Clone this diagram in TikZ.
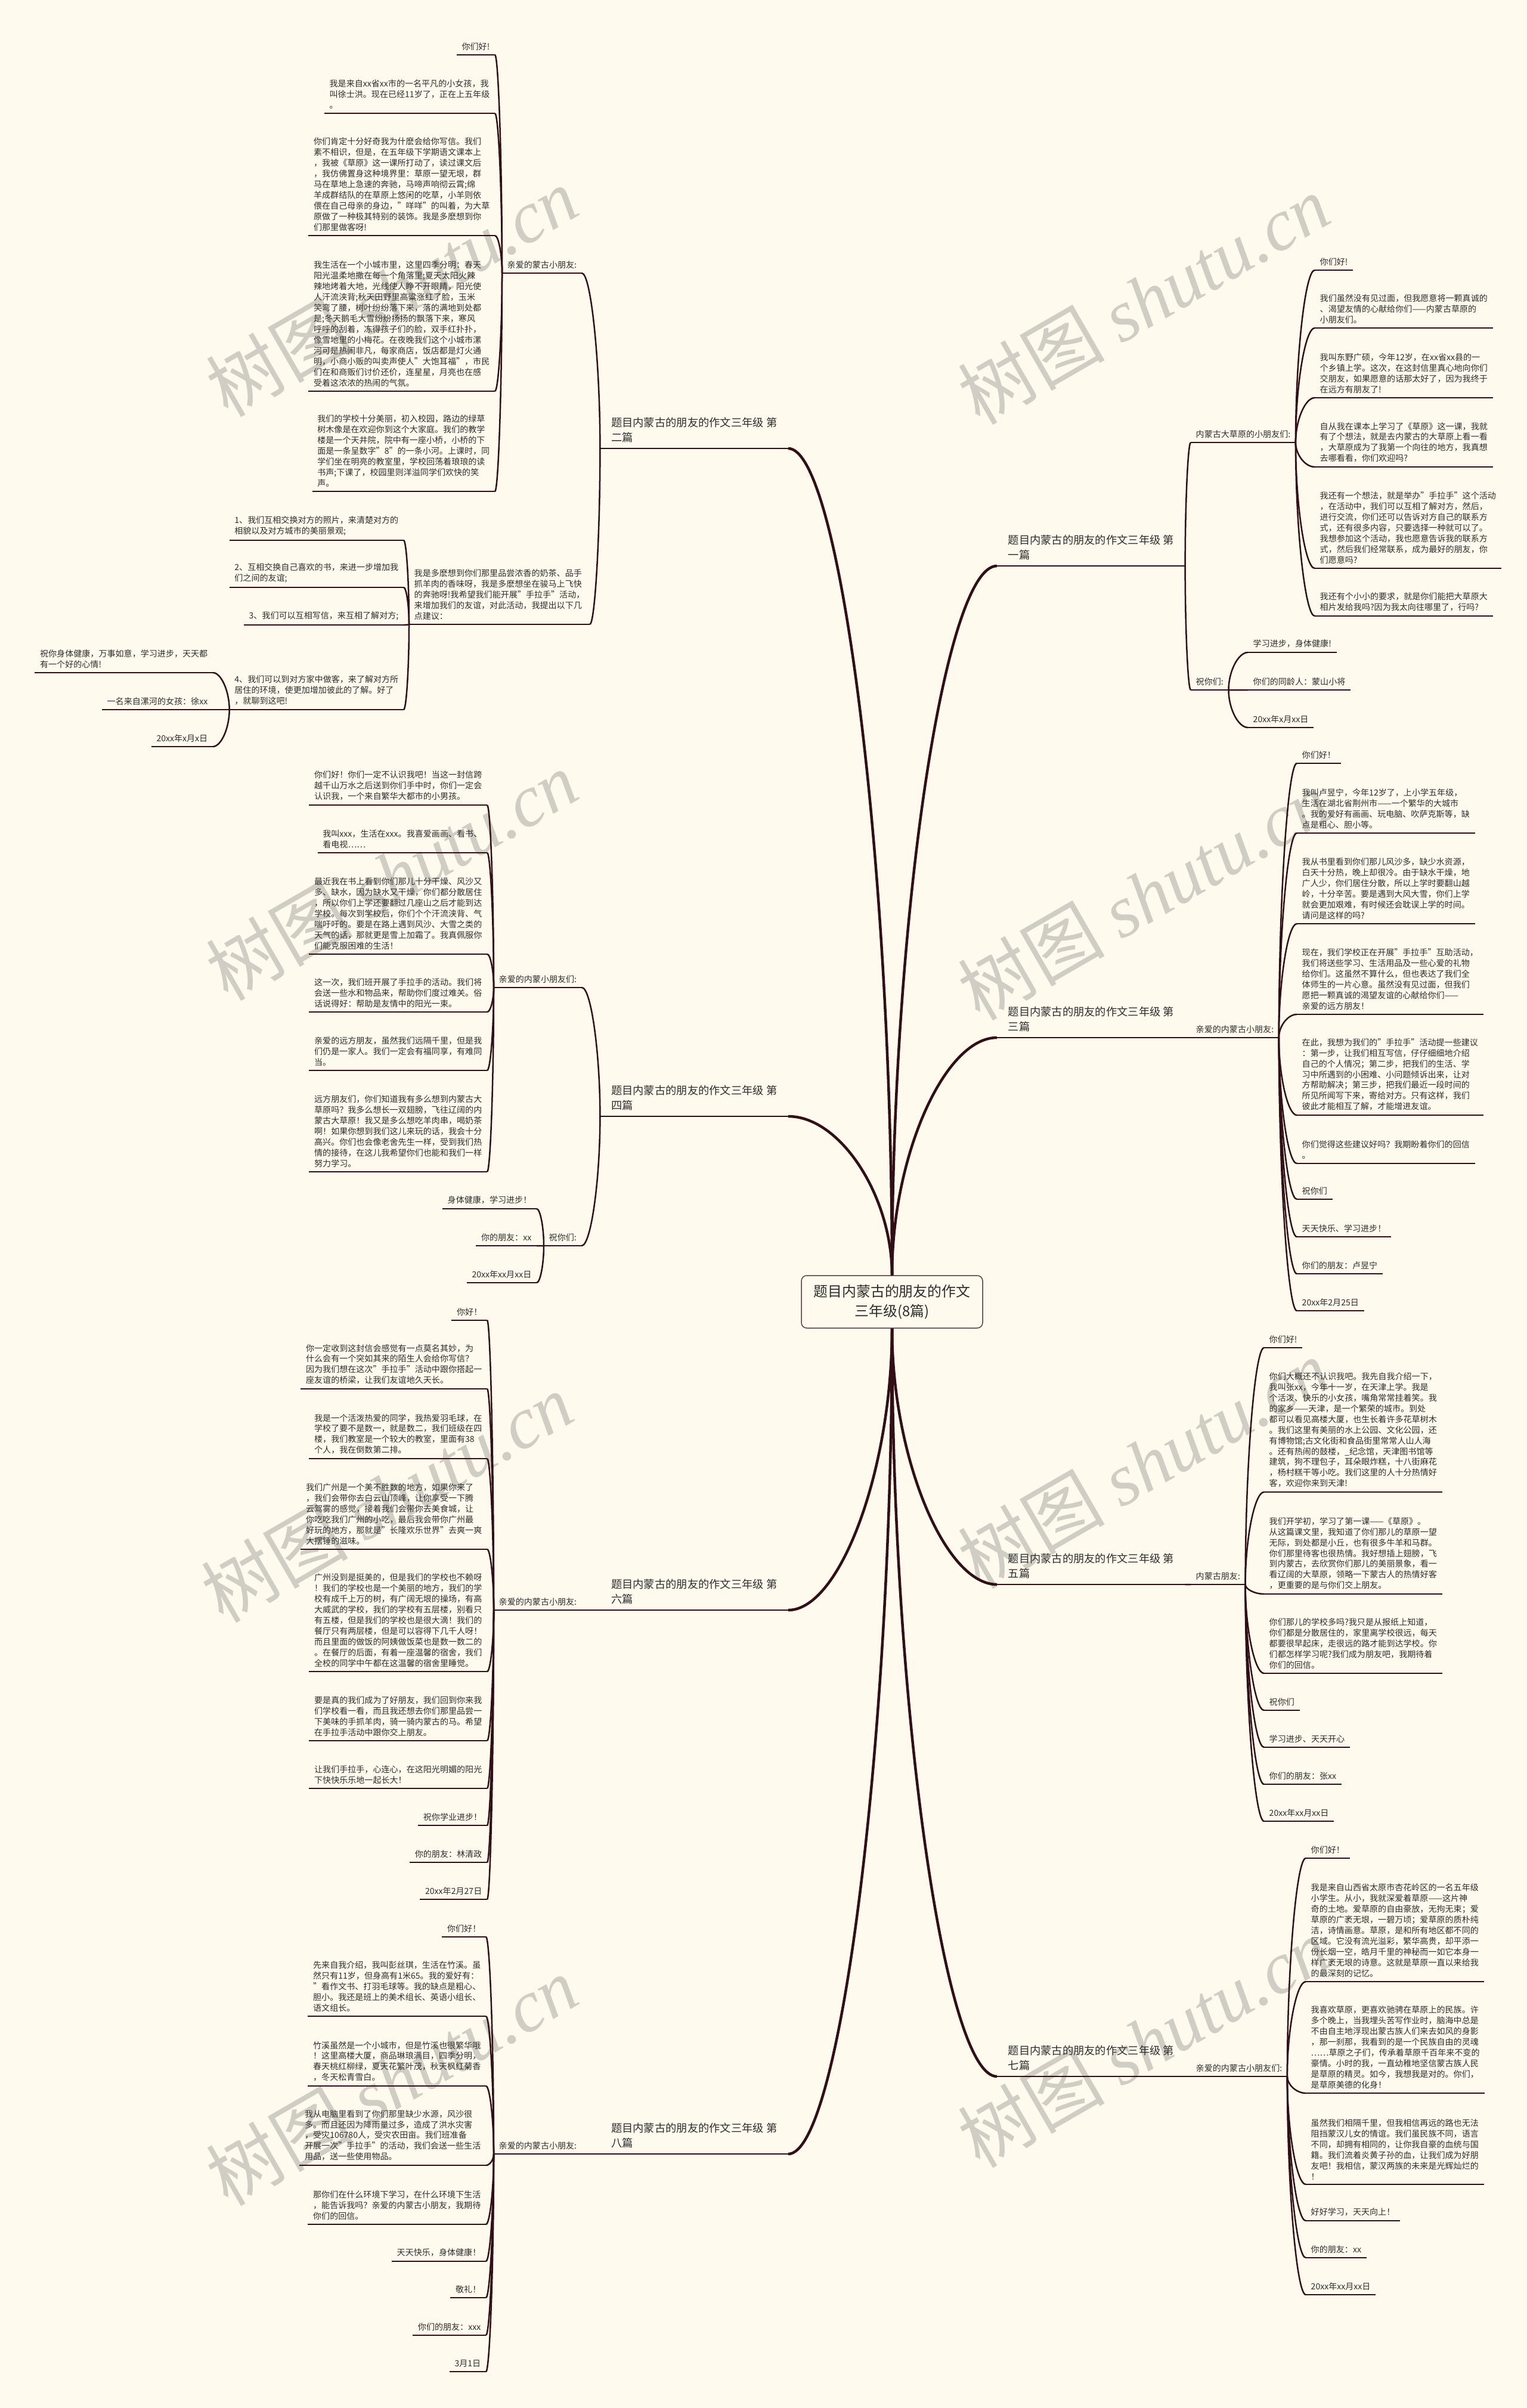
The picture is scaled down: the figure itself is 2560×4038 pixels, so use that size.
\documentclass[tikz,border=0pt]{standalone}
\usepackage{fontspec}
\setmainfont{Noto Sans CJK SC}
\newfontfamily\wmfont{Liberation Serif}
\usetikzlibrary{calc}
\definecolor{paper}{RGB}{255,250,237}
\definecolor{ink}{RGB}{48,16,22}
\definecolor{txt}{RGB}{45,45,45}
\definecolor{wm}{RGB}{208,205,196}
\begin{document}
\begin{tikzpicture}[x=0.1mm, y=-0.1mm,
  leaf/.style={font=\fontsize{4pt}{5.1pt}\selectfont, text=txt, align=left, inner xsep=0.8mm, inner ysep=0.7mm,
    append after command={(\tikzlastnode.south west) edge[draw=ink, line width=0.22mm] (\tikzlastnode.south east)}},
  leafl/.style={leaf, anchor=south east},
  leafr/.style={leaf, anchor=south west},
  branch/.style={font=\fontsize{5.2pt}{7.1pt}\selectfont, text=txt, align=left, inner xsep=1.8mm, inner ysep=0.9mm,
    append after command={(\tikzlastnode.south west) edge[draw=ink, line width=0.25mm] (\tikzlastnode.south east)}},
  root/.style={draw=ink!80, line width=0.15mm, rounded corners=0.9mm, fill=paper, text=txt, align=center,
    font=\fontsize{6.8pt}{9.4pt}\selectfont, minimum width=30.4mm, minimum height=8.8mm},
  link/.style={draw=ink, line width=0.25mm,
    to path={.. controls ($(\tikztostart)!0.5!(\tikztostart|-\tikztotarget)$) and ($(\tikztotarget)!0.5!(\tikztostart|-\tikztotarget)$) .. (\tikztotarget)}},
  trunk/.style={link, line width=0.45mm},
  wmark/.style={text=wm, rotate=30, font=\fontsize{35pt}{35pt}\selectfont}]
\useasboundingbox (0,0) rectangle (2560,4038);
\fill[paper] (0,0) rectangle (2560,4038);

% watermark
\node[wmark] (wm1) at (657,489) {树图 {\wmfont\itshape shutu.cn}};
\node[wmark] (wm2) at (657,1468) {树图 {\wmfont\itshape shutu.cn}};
\node[wmark] (wm3) at (649,2511) {树图 {\wmfont\itshape shutu.cn}};
\node[wmark] (wm4) at (657,3489) {树图 {\wmfont\itshape shutu.cn}};
\node[wmark] (wm5) at (1918,502) {树图 {\wmfont\itshape shutu.cn}};
\node[wmark] (wm6) at (1918,1501) {树图 {\wmfont\itshape shutu.cn}};
\node[wmark] (wm7) at (1918,2454) {树图 {\wmfont\itshape shutu.cn}};
\node[wmark] (wm8) at (1918,3425) {树图 {\wmfont\itshape shutu.cn}};

% centre and the eight letters
\node[root] (root) at (1496,2183) {题目内蒙古的朋友的作文\\三年级(8篇)};
\node[branch, anchor=south west] (B1) at (1672,949) {题目内蒙古的朋友的作文三年级 第\\一篇};
\node[branch, anchor=south east] (B2) at (1322,752) {题目内蒙古的朋友的作文三年级 第\\二篇};
\node[branch, anchor=south west] (B3) at (1672,1740) {题目内蒙古的朋友的作文三年级 第\\三篇};
\node[branch, anchor=south east] (B4) at (1322,1872) {题目内蒙古的朋友的作文三年级 第\\四篇};
\node[branch, anchor=south west] (B5) at (1672,2657) {题目内蒙古的朋友的作文三年级 第\\五篇};
\node[branch, anchor=south east] (B6) at (1322,2700) {题目内蒙古的朋友的作文三年级 第\\六篇};
\node[branch, anchor=south west] (B7) at (1672,3482) {题目内蒙古的朋友的作文三年级 第\\七篇};
\node[branch, anchor=south east] (B8) at (1322,3612) {题目内蒙古的朋友的作文三年级 第\\八篇};

% second letter
\node[leafr] (s2a) at (842,458) {亲爱的蒙古小朋友:};
\node[leafr] (s2b) at (686,1047) {我是多麽想到你们那里品尝浓香的奶茶、品手\\抓羊肉的香味呀，我是多麽想坐在骏马上飞快\\的奔驰呀!我希望我们能开展"手拉手"活动，\\来增加我们的友谊，对此活动，我提出以下几\\点建议：};
\node[leafl] (a1) at (830,92) {你们好!};
\node[leafl] (a2) at (830,190) {我是来自xx省xx市的一名平凡的小女孩，我\\叫徐士洪。现在已经11岁了，正在上五年级\\。};
\node[leafl] (a3) at (830,395) {你们肯定十分好奇我为什麽会给你写信。我们\\素不相识，但是，在五年级下学期语文课本上\\，我被《草原》这一课所打动了，读过课文后\\，我仿佛置身这种境界里：草原一望无垠，群\\马在草地上急速的奔驰，马啼声响彻云霄;绵\\羊成群结队的在草原上悠闲的吃草，小羊则依\\偎在自己母亲的身边，"咩咩"的叫着，为大草\\原做了一种极其特别的装饰。我是多麽想到你\\们那里做客呀!};
\node[leafl] (a4) at (830,656) {我生活在一个小城市里，这里四季分明：春天\\阳光温柔地撒在每一个角落里;夏天太阳火辣\\辣地烤着大地，光线使人睁不开眼睛，阳光使\\人汗流浃背;秋天田野里高粱涨红了脸，玉米\\笑弯了腰，树叶纷纷落下来，落的满地到处都\\是;冬天鹅毛大雪纷纷扬扬的飘落下来，寒风\\呼呼的刮着，冻得孩子们的脸，双手红扑扑，\\像雪地里的小梅花。在夜晚我们这个小城市漯\\河可是热闹非凡，每家商店，饭店都是灯火通\\明，小商小贩的叫卖声使人"大饱耳福"，市民\\们在和商贩们讨价还价，连星星，月亮也在感\\受着这浓浓的热闹的气氛。};
\node[leafl] (a5) at (830,824) {我们的学校十分美丽，初入校园，路边的绿草\\树木像是在欢迎你到这个大家庭。我们的教学\\楼是一个天井院，院中有一座小桥，小桥的下\\面是一条呈数字"8"的一条小河。上课时，同\\学们坐在明亮的教室里，学校回荡着琅琅的读\\书声;下课了，校园里则洋溢同学们欢快的笑\\声。};
\node[leafl] (b1) at (677,906) {1、我们互相交换对方的照片，来清楚对方的\\相貌以及对方城市的美丽景观;};
\node[leafl] (b2) at (677,985) {2、互相交换自己喜欢的书，来进一步增加我\\们之间的友谊;};
\node[leafl] (b3) at (677,1048) {3、我们可以互相写信，来互相了解对方;};
\node[leafl] (b4) at (677,1190) {4、我们可以到对方家中做客，来了解对方所\\居住的环境，使更加增加彼此的了解。好了\\，就聊到这吧!};
\node[leafl] (c1) at (357,1128) {祝你身体健康，万事如意，学习进步，天天都\\有一个好的心情!};
\node[leafl] (c2) at (357,1190) {一名来自漯河的女孩：徐xx};
\node[leafl] (c3) at (357,1252) {20xx年x月x日};

% fourth letter
\node[leafr] (s4a) at (828,1656) {亲爱的内蒙小朋友们:};
\node[leafr] (s4b) at (912,2089) {祝你们:};
\node[leafl] (d1) at (817,1350) {你们好！你们一定不认识我吧！当这一封信跨\\越千山万水之后送到你们手中时，你们一定会\\认识我，一个来自繁华大都市的小男孩。};
\node[leafl] (d2) at (817,1430) {我叫xxx，生活在xxx。我喜爱画画、看书、\\看电视……};
\node[leafl] (d3) at (817,1600) {最近我在书上看到你们那儿十分干燥、风沙又\\多、缺水，因为缺水又干燥，你们都分散居住\\，所以你们上学还要翻过几座山之后才能到达\\学校。每次到学校后，你们个个汗流浃背、气\\喘吁吁的。要是在路上遇到风沙、大雪之类的\\天气的话，那就更是雪上加霜了。我真佩服你\\们能克服困难的生活！};
\node[leafl] (d4) at (817,1697) {这一次，我们班开展了手拉手的活动。我们将\\会送一些水和物品来，帮助你们度过难关。俗\\话说得好：帮助是友情中的阳光一束。};
\node[leafl] (d5) at (817,1795) {亲爱的远方朋友，虽然我们远隔千里，但是我\\们仍是一家人。我们一定会有福同享，有难同\\当。};
\node[leafl] (d6) at (817,1965) {远方朋友们，你们知道我有多么想到内蒙古大\\草原吗？我多么想长一双翅膀，飞往辽阔的内\\蒙古大草原！我又是多么想吃羊肉串，喝奶茶\\啊！如果你想到我们这儿来玩的话，我会十分\\高兴。你们也会像老舍先生一样，受到我们热\\情的接待，在这儿我希望你们也能和我们一样\\努力学习。};
\node[leafl] (e1) at (900,2027) {身体健康，学习进步！};
\node[leafl] (e2) at (900,2089) {你的朋友：xx};
\node[leafl] (e3) at (900,2151) {20xx年xx月xx日};

% sixth letter
\node[leafr] (s6) at (828,2700) {亲爱的内蒙古小朋友:};
\node[leafl] (f1) at (817,2214) {你好！};
\node[leafl] (f2) at (817,2329) {你一定收到这封信会感觉有一点莫名其妙，为\\什么会有一个突如其来的陌生人会给你写信？\\因为我们想在这次"手拉手"活动中跟你搭起一\\座友谊的桥梁，让我们友谊地久天长。};
\node[leafl] (f3) at (817,2446) {我是一个活泼热爱的同学，我热爱羽毛球，在\\学校了要不是数一，就是数二，我们班级在四\\楼，我们教室是一个较大的教室，里面有38\\个人，我在倒数第二排。};
\node[leafl] (f4) at (817,2598) {我们广州是一个美不胜数的地方，如果你来了\\，我们会带你去白云山顶峰，让你享受一下腾\\云驾雾的感觉，接着我们会带你去美食城，让\\你吃吃我们广州的小吃，最后我会带你广州最\\好玩的地方，那就是"长隆欢乐世界"去爽一爽\\大摆锤的滋味。};
\node[leafl] (f5) at (817,2803) {广州没到是挺美的，但是我们的学校也不赖呀\\！我们的学校也是一个美丽的地方，我们的学\\校有成千上万的树，有广阔无垠的操场，有高\\大威武的学校，我们的学校有五层楼，别看只\\有五楼，但是我们的学校也是很大滴！我们的\\餐厅只有两层楼，但是可以容得下几千人呀！\\而且里面的做饭的阿姨做饭菜也是数一数二的\\。在餐厅的后面，有着一座温馨的宿舍，我们\\全校的同学中午都在这温馨的宿舍里睡觉。};
\node[leafl] (f6) at (817,2919) {要是真的我们成为了好朋友，我们回到你来我\\们学校看一看，而且我还想去你们那里品尝一\\下美味的手抓羊肉，骑一骑内蒙古的马。希望\\在手拉手活动中跟你交上朋友。};
\node[leafl] (f7) at (817,2999) {让我们手拉手，心连心，在这阳光明媚的阳光\\下快快乐乐地一起长大！};
\node[leafl] (f8) at (817,3061) {祝你学业进步！};
\node[leafl] (f9) at (817,3123) {你的朋友：林清政};
\node[leafl] (f10) at (817,3185) {20xx年2月27日};

% eighth letter
\node[leafr] (s8) at (828,3612) {亲爱的内蒙古小朋友:};
\node[leafl] (g1) at (815,3248) {你们好！};
\node[leafl] (g2) at (815,3381) {先来自我介绍，我叫彭丝琪，生活在竹溪。虽\\然只有11岁，但身高有1米65。我的爱好有：\\"看作文书、打羽毛球等。我的缺点是粗心、\\胆小。我还是班上的美术组长、英语小组长、\\语文组长。};
\node[leafl] (g3) at (815,3498) {竹溪虽然是一个小城市，但是竹溪也很繁华哦\\！这里高楼大厦，商品琳琅满目，四季分明，\\春天桃红柳绿，夏天花繁叶茂，秋天枫红菊香\\，冬天松青雪白。};
\node[leafl] (g4) at (815,3631) {我从电脑里看到了你们那里缺少水源，风沙很\\多。而且还因为降雨量过多，造成了洪水灾害\\，受灾106780人，受灾农田亩。我们班准备\\开展一次"手拉手"的活动，我们会送一些生活\\用品，送一些使用物品。};
\node[leafl] (g5) at (815,3730) {那你们在什么环境下学习，在什么环境下生活\\，能告诉我吗？亲爱的内蒙古小朋友，我期待\\你们的回信。};
\node[leafl] (g6) at (815,3792) {天天快乐，身体健康！};
\node[leafl] (g7) at (815,3853) {敬礼！};
\node[leafl] (g8) at (815,3916) {你们的朋友：xxx};
\node[leafl] (g9) at (815,3977) {3月1日};

% first letter
\node[leafr] (r1a) at (1997,742) {内蒙古大草原的小朋友们:};
\node[leafr] (r1b) at (1997,1157) {祝你们:};
\node[leafr] (h1) at (2205,453) {你们好!};
\node[leafr] (h2) at (2205,550) {我们虽然没有见过面，但我愿意将一颗真诚的\\、渴望友情的心献给你们——内蒙古草原的\\小朋友们。};
\node[leafr] (h3) at (2205,667) {我叫东野广硕，今年12岁，在xx省xx县的一\\个乡镇上学。这次，在这封信里真心地向你们\\交朋友，如果愿意的话那太好了，因为我终于\\在远方有朋友了!};
\node[leafr] (h4) at (2205,783) {自从我在课本上学习了《草原》这一课，我就\\有了个想法，就是去内蒙古的大草原上看一看\\，大草原成为了我第一个向往的地方，我真想\\去哪看看，你们欢迎吗?};
\node[leafr] (h5) at (2205,953) {我还有一个想法，就是举办"手拉手"这个活动\\，在活动中，我们可以互相了解对方，然后，\\进行交流，你们还可以告诉对方自己的联系方\\式，还有很多内容，只要选择一种就可以了。\\我想参加这个活动，我也愿意告诉我的联系方\\式，然后我们经常联系，成为最好的朋友，你\\们愿意吗?};
\node[leafr] (h6) at (2205,1033) {我还有个小小的要求，就是你们能把大草原大\\相片发给我吗?因为我太向往哪里了，行吗?};
\node[leafr] (i1) at (2093,1094) {学习进步，身体健康!};
\node[leafr] (i2) at (2093,1157) {你们的同龄人：蒙山小将};
\node[leafr] (i3) at (2093,1220) {20xx年x月xx日};

% third letter
\node[leafr] (r3) at (1997,1740) {亲爱的内蒙古小朋友:};
\node[leafr] (j1) at (2175,1280) {你们好！};
\node[leafr] (j2) at (2175,1397) {我叫卢昱宁，今年12岁了，上小学五年级，\\生活在湖北省荆州市——一个繁华的大城市\\。我的爱好有画画、玩电脑、吹萨克斯等，缺\\点是粗心、胆小等。};
\node[leafr] (j3) at (2175,1549) {我从书里看到你们那儿风沙多，缺少水资源，\\白天十分热，晚上却很冷。由于缺水干燥，地\\广人少，你们居住分散，所以上学时要翻山越\\岭，十分辛苦。要是遇到大风大雪，你们上学\\就会更加艰难，有时候还会耽误上学的时间。\\请问是这样的吗?};
\node[leafr] (j4) at (2175,1701) {现在，我们学校正在开展"手拉手"互助活动，\\我们将送些学习、生活用品及一些心爱的礼物\\给你们。这虽然不算什么，但也表达了我们全\\体师生的一片心意。虽然没有见过面，但我们\\愿把一颗真诚的渴望友谊的心献给你们——\\亲爱的远方朋友！};
\node[leafr] (j5) at (2175,1870) {在此，我想为我们的"手拉手"活动提一些建议\\：第一步，让我们相互写信，仔仔细细地介绍\\自己的个人情况；第二步，把我们的生活、学\\习中所遇到的小困难、小问题倾诉出来，让对\\方帮助解决；第三步，把我们最近一段时间的\\所见所闻写下来，寄给对方。只有这样，我们\\彼此才能相互了解，才能增进友谊。};
\node[leafr] (j6) at (2175,1951) {你们觉得这些建议好吗？我期盼着你们的回信\\。};
\node[leafr] (j7) at (2175,2011) {祝你们};
\node[leafr] (j8) at (2175,2074) {天天快乐、学习进步！};
\node[leafr] (j9) at (2175,2136) {你们的朋友：卢昱宁};
\node[leafr] (j10) at (2175,2198) {20xx年2月25日};

% fifth letter
\node[leafr] (r5) at (1997,2657) {内蒙古朋友:};
\node[leafr] (k1) at (2120,2260) {你们好!};
\node[leafr] (k2) at (2120,2502) {你们大概还不认识我吧。我先自我介绍一下，\\我叫张xx，今年十一岁，在天津上学。我是\\个活泼、快乐的小女孩，嘴角常常挂着笑。我\\的家乡——天津，是一个繁荣的城市。到处\\都可以看见高楼大厦，也生长着许多花草树木\\。我们这里有美丽的水上公园、文化公园，还\\有博物馆;古文化街和食品街里常常人山人海\\。还有热闹的鼓楼，\_纪念馆，天津图书馆等\\建筑，狗不理包子，耳朵眼炸糕，十八街麻花\\，杨村糕干等小吃。我们这里的人十分热情好\\客，欢迎你来到天津!};
\node[leafr] (k3) at (2120,2673) {我们开学初，学习了第一课——《草原》。\\从这篇课文里，我知道了你们那儿的草原一望\\无际，到处都是小丘，也有很多牛羊和马群。\\你们那里待客也很热情。我好想插上翅膀，飞\\到内蒙古，去欣赏你们那儿的美丽景象，看一\\看辽阔的大草原，领略一下蒙古人的热情好客\\，更重要的是与你们交上朋友。};
\node[leafr] (k4) at (2120,2806) {你们那儿的学校多吗?我只是从报纸上知道，\\你们都是分散居住的，家里离学校很远，每天\\都要很早起床，走很远的路才能到达学校。你\\们都怎样学习呢?我们成为朋友吧，我期待着\\你们的回信。};
\node[leafr] (k5) at (2120,2868) {祝你们};
\node[leafr] (k6) at (2120,2930) {学习进步、天天开心};
\node[leafr] (k7) at (2120,2992) {你们的朋友：张xx};
\node[leafr] (k8) at (2120,3054) {20xx年xx月xx日};

% seventh letter
\node[leafr] (r7) at (1997,3482) {亲爱的内蒙古小朋友们:};
\node[leafr] (m1) at (2190,3116) {你们好！};
\node[leafr] (m2) at (2190,3323) {我是来自山西省太原市杏花岭区的一名五年级\\小学生。从小，我就深爱着草原——这片神\\奇的土地。爱草原的自由豪放，无拘无束；爱\\草原的广袤无垠，一碧万顷；爱草原的质朴纯\\洁，诗情画意。草原，是和所有地区都不同的\\区域。它没有流光溢彩，繁华高贵，却平添一\\份长烟一空，皓月千里的神秘而一如它本身一\\样广袤无垠的诗意。这就是草原一直以来给我\\的最深刻的记忆。};
\node[leafr] (m3) at (2190,3510) {我喜欢草原，更喜欢驰骋在草原上的民族。许\\多个晚上，当我埋头苦写作业时，脑海中总是\\不由自主地浮现出蒙古族人们来去如风的身影\\，那一刹那，我看到的是一个民族自由的灵魂\\……草原之子们，传承着草原千百年来不变的\\豪情。小时的我，一直幼稚地坚信蒙古族人民\\是草原的精灵。如今，我想我是对的。你们，\\是草原美德的化身！};
\node[leafr] (m4) at (2190,3663) {虽然我们相隔千里，但我相信再远的路也无法\\阻挡蒙汉儿女的情谊。我们虽民族不同，语言\\不同，却拥有相同的，让你我自豪的血统与国\\籍。我们流着炎黄子孙的血，让我们成为好朋\\友吧！我相信，蒙汉两族的未来是光辉灿烂的\\！};
\node[leafr] (m5) at (2190,3724) {好好学习，天天向上！};
\node[leafr] (m6) at (2190,3786) {你的朋友：xx};
\node[leafr] (m7) at (2190,3848) {20xx年xx月xx日};

% connectors
\draw[trunk] (root.north) to (B1.south west);
\draw[trunk] (root.north) to (B3.south west);
\draw[trunk] (root.south) to (B5.south west);
\draw[trunk] (root.south) to (B7.south west);
\draw[trunk] (root.north) to (B2.south east);
\draw[trunk] (root.north) to (B4.south east);
\draw[trunk] (root.south) to (B6.south east);
\draw[trunk] (root.south) to (B8.south east);

\draw[link] (B2.south west) to (s2a.south east);
\draw[link] (B2.south west) to (s2b.south east);
\draw[link] (s2a.south west) to (a1.south east);
\draw[link] (s2a.south west) to (a2.south east);
\draw[link] (s2a.south west) to (a3.south east);
\draw[link] (s2a.south west) to (a4.south east);
\draw[link] (s2a.south west) to (a5.south east);
\draw[link] (s2b.south west) to (b1.south east);
\draw[link] (s2b.south west) to (b2.south east);
\draw[link] (s2b.south west) to (b3.south east);
\draw[link] (s2b.south west) to (b4.south east);
\draw[link] (b4.south west) to (c1.south east);
\draw[link] (b4.south west) to (c2.south east);
\draw[link] (b4.south west) to (c3.south east);

\draw[link] (B4.south west) to (s4a.south east);
\draw[link] (B4.south west) to (s4b.south east);
\draw[link] (s4a.south west) to (d1.south east);
\draw[link] (s4a.south west) to (d2.south east);
\draw[link] (s4a.south west) to (d3.south east);
\draw[link] (s4a.south west) to (d4.south east);
\draw[link] (s4a.south west) to (d5.south east);
\draw[link] (s4a.south west) to (d6.south east);
\draw[link] (s4b.south west) to (e1.south east);
\draw[link] (s4b.south west) to (e2.south east);
\draw[link] (s4b.south west) to (e3.south east);

\draw[link] (B6.south west) to (s6.south east);
\draw[link] (s6.south west) to (f1.south east);
\draw[link] (s6.south west) to (f2.south east);
\draw[link] (s6.south west) to (f3.south east);
\draw[link] (s6.south west) to (f4.south east);
\draw[link] (s6.south west) to (f5.south east);
\draw[link] (s6.south west) to (f6.south east);
\draw[link] (s6.south west) to (f7.south east);
\draw[link] (s6.south west) to (f8.south east);
\draw[link] (s6.south west) to (f9.south east);
\draw[link] (s6.south west) to (f10.south east);

\draw[link] (B8.south west) to (s8.south east);
\draw[link] (s8.south west) to (g1.south east);
\draw[link] (s8.south west) to (g2.south east);
\draw[link] (s8.south west) to (g3.south east);
\draw[link] (s8.south west) to (g4.south east);
\draw[link] (s8.south west) to (g5.south east);
\draw[link] (s8.south west) to (g6.south east);
\draw[link] (s8.south west) to (g7.south east);
\draw[link] (s8.south west) to (g8.south east);
\draw[link] (s8.south west) to (g9.south east);

\draw[link] (B1.south east) to (r1a.south west);
\draw[link] (B1.south east) to (r1b.south west);
\draw[link] (r1a.south east) to (h1.south west);
\draw[link] (r1a.south east) to (h2.south west);
\draw[link] (r1a.south east) to (h3.south west);
\draw[link] (r1a.south east) to (h4.south west);
\draw[link] (r1a.south east) to (h5.south west);
\draw[link] (r1a.south east) to (h6.south west);
\draw[link] (r1b.south east) to (i1.south west);
\draw[link] (r1b.south east) to (i2.south west);
\draw[link] (r1b.south east) to (i3.south west);

\draw[link] (B3.south east) to (r3.south west);
\draw[link] (r3.south east) to (j1.south west);
\draw[link] (r3.south east) to (j2.south west);
\draw[link] (r3.south east) to (j3.south west);
\draw[link] (r3.south east) to (j4.south west);
\draw[link] (r3.south east) to (j5.south west);
\draw[link] (r3.south east) to (j6.south west);
\draw[link] (r3.south east) to (j7.south west);
\draw[link] (r3.south east) to (j8.south west);
\draw[link] (r3.south east) to (j9.south west);
\draw[link] (r3.south east) to (j10.south west);

\draw[link] (B5.south east) to (r5.south west);
\draw[link] (r5.south east) to (k1.south west);
\draw[link] (r5.south east) to (k2.south west);
\draw[link] (r5.south east) to (k3.south west);
\draw[link] (r5.south east) to (k4.south west);
\draw[link] (r5.south east) to (k5.south west);
\draw[link] (r5.south east) to (k6.south west);
\draw[link] (r5.south east) to (k7.south west);
\draw[link] (r5.south east) to (k8.south west);

\draw[link] (B7.south east) to (r7.south west);
\draw[link] (r7.south east) to (m1.south west);
\draw[link] (r7.south east) to (m2.south west);
\draw[link] (r7.south east) to (m3.south west);
\draw[link] (r7.south east) to (m4.south west);
\draw[link] (r7.south east) to (m5.south west);
\draw[link] (r7.south east) to (m6.south west);
\draw[link] (r7.south east) to (m7.south west);
\end{tikzpicture}
\end{document}
